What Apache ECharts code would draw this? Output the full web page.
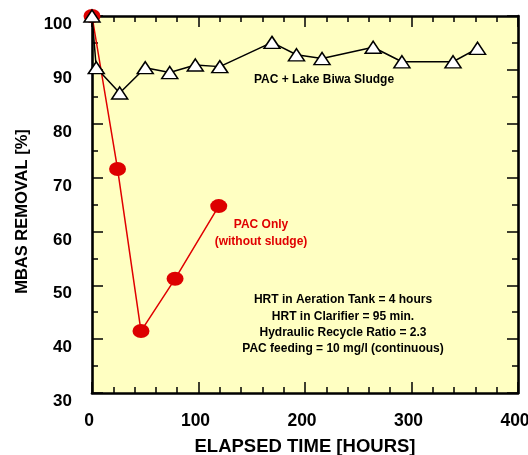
<!DOCTYPE html>
<html>
<head>
<meta charset="utf-8">
<script src="https://cdn.jsdelivr.net/npm/echarts@6/dist/echarts.min.js"></script>
<style>html,body{margin:0;padding:0;background:#fff}#c{width:528px;height:455px}</style>
</head>
<body>
<div id="c"></div>
<script>
// Data
var sludgeHours = [0, 4, 26, 50, 73, 97, 120, 169, 192, 216, 264, 291, 339, 362];
var sludgeRemoval = [100, 90.4, 85.7, 90.4, 89.5, 90.9, 90.6, 95.1, 92.8, 92.1, 94.2, 91.5, 91.5, 94.0];
var pacHours = [0, 24, 46, 78, 119];
var pacRemoval = [100, 71.6, 41.5, 51.2, 64.7];
var xTicks = [0, 100, 200, 300, 400];
var yTicks = [30, 40, 50, 60, 70, 80, 90, 100];

function pairs(xs, ys) { return xs.map(function (x, i) { return [x, ys[i]]; }); }

var FONT = '"Liberation Sans", Arial, sans-serif';
var chart = echarts.init(document.getElementById('c'), null, { renderer: 'canvas' });

function axisCommon(extra) {
  var base = {
    axisLine: { show: true, onZero: false, lineStyle: { color: '#000', width: 2.6 } },
    axisTick: { show: true, inside: true, length: 11, lineStyle: { color: '#000', width: 1.5 } },
    splitLine: { show: false },
    minorSplitLine: { show: false }
  };
  for (var k in extra) base[k] = extra[k];
  return base;
}

var xMin = xTicks[0], xMax = xTicks[xTicks.length - 1];
var yMin = yTicks[0], yMax = yTicks[yTicks.length - 1];
var xMinor = { show: true, splitNumber: 5, length: 6, lineStyle: { color: '#000', width: 1.5 } };
var yMinor = { show: true, splitNumber: 2, length: 6, lineStyle: { color: '#000', width: 1.5 } };

chart.setOption({
  animation: false,
  grid: { left: 92, right: 10, top: 16, bottom: 62, show: true, backgroundColor: '#FFFFC2', borderWidth: 0,
          containLabel: false, outerBoundsMode: 'none' },
  xAxis: [
    axisCommon({
      type: 'value', position: 'bottom', min: xMin, max: xMax, interval: 100, minorTick: xMinor,
      axisLabel: { margin: 19, color: '#000', fontFamily: FONT, fontWeight: 'bold', fontSize: 17.5, padding: [0, 6, 0, 0] },
      name: 'ELAPSED TIME [HOURS]', nameLocation: 'middle', nameGap: 44,
      nameTextStyle: { color: '#000', fontFamily: FONT, fontWeight: 'bold', fontSize: 18.5 }
    }),
    axisCommon({
      type: 'value', position: 'top', min: xMin, max: xMax, interval: 100, minorTick: xMinor,
      axisLabel: { show: false }
    })
  ],
  yAxis: [
    axisCommon({
      type: 'value', position: 'left', min: yMin, max: yMax, interval: 10, minorTick: yMinor,
      axisLabel: { margin: 20, color: '#000', fontFamily: FONT, fontWeight: 'bold', fontSize: 17, verticalAlign: 'top' },
      name: 'MBAS REMOVAL [%]', nameLocation: 'middle', nameGap: 61,
      nameTextStyle: { color: '#000', fontFamily: FONT, fontWeight: 'bold', fontSize: 16.5, padding: [0, 14, 0, 0] }
    }),
    axisCommon({
      type: 'value', position: 'right', min: yMin, max: yMax, interval: 10, minorTick: yMinor,
      axisLabel: { show: false }
    })
  ],
  series: [
    {
      type: 'line', name: 'PAC Only', data: pairs(pacHours, pacRemoval), clip: false, z: 2,
      symbol: 'circle', symbolSize: [17, 14],
      lineStyle: { color: '#E00000', width: 1.5 },
      itemStyle: { color: '#DD0000', borderColor: '#DD0000', borderWidth: 0 }
    },
    {
      type: 'line', name: 'PAC + Lake Biwa Sludge', data: pairs(sludgeHours, sludgeRemoval), clip: false, z: 3,
      symbol: 'triangle', symbolSize: [16, 12], showAllSymbol: true,
      lineStyle: { color: '#000', width: 1.5 },
      itemStyle: { color: '#fff', borderColor: '#000', borderWidth: 1.5 }
    }
  ],
  graphic: [
    { type: 'text', x: 324, y: 80, style: { text: 'PAC + Lake Biwa Sludge', fill: '#000', font: 'bold 12px ' + FONT, textAlign: 'center', textVerticalAlign: 'middle' } },
    { type: 'text', x: 261, y: 225, style: { text: 'PAC Only', fill: '#E00000', font: 'bold 12px ' + FONT, textAlign: 'center', textVerticalAlign: 'middle' } },
    { type: 'text', x: 261, y: 241.5, style: { text: '(without sludge)', fill: '#E00000', font: 'bold 12px ' + FONT, textAlign: 'center', textVerticalAlign: 'middle' } },
    { type: 'text', x: 343, y: 300, style: { text: 'HRT in Aeration Tank = 4 hours', fill: '#000', font: 'bold 12px ' + FONT, textAlign: 'center', textVerticalAlign: 'middle' } },
    { type: 'text', x: 343, y: 317, style: { text: 'HRT in Clarifier = 95 min.', fill: '#000', font: 'bold 12px ' + FONT, textAlign: 'center', textVerticalAlign: 'middle' } },
    { type: 'text', x: 343, y: 333, style: { text: 'Hydraulic Recycle Ratio = 2.3', fill: '#000', font: 'bold 12px ' + FONT, textAlign: 'center', textVerticalAlign: 'middle' } },
    { type: 'text', x: 343, y: 348.5, style: { text: 'PAC feeding = 10 mg/l (continuous)', fill: '#000', font: 'bold 12px ' + FONT, textAlign: 'center', textVerticalAlign: 'middle' } }
  ]
});
</script>
</body>
</html>
